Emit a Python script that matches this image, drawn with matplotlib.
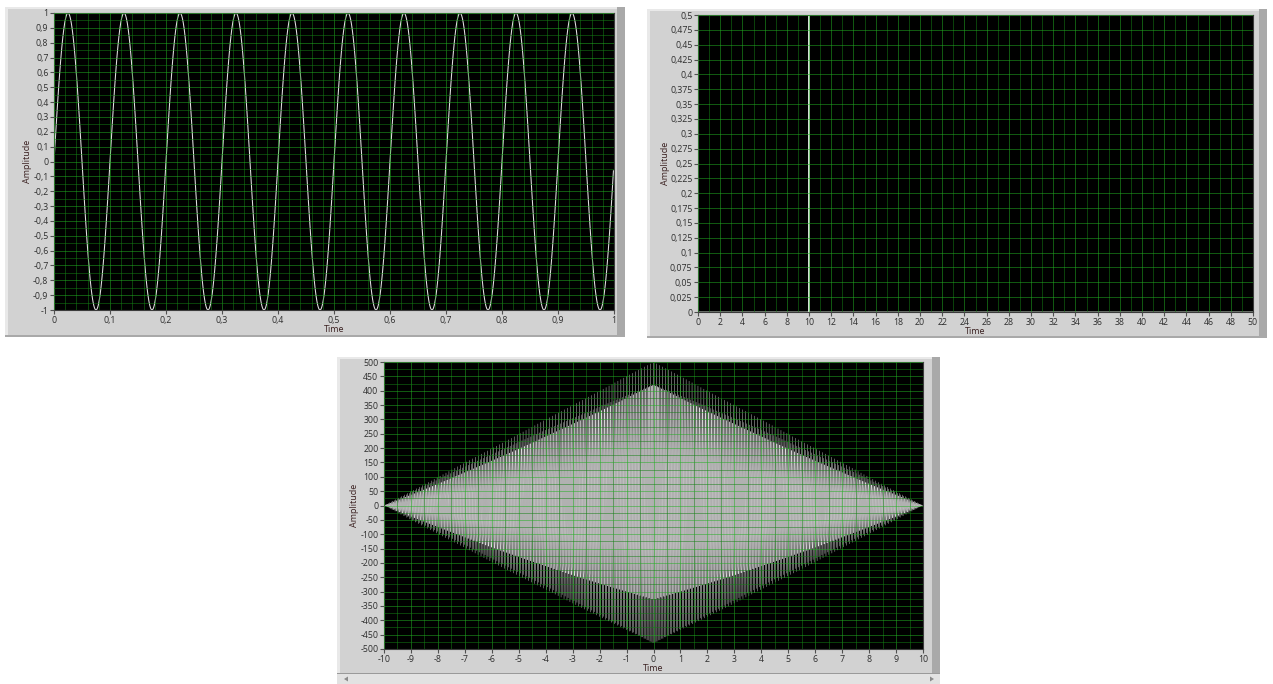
import numpy as np
import matplotlib
matplotlib.use("Agg")
import matplotlib.pyplot as plt
from matplotlib.patches import Rectangle, Polygon
from matplotlib.ticker import MultipleLocator

plt.rcParams["path.simplify"] = False

# ---------------- signal parameters ----------------
# Sine wave: 10 Hz, unit amplitude, 1000 samples at 1 kHz
sine_freq = 10.0
sine_amp = 1.0
sine_dt = 0.001
sine_n = 1000

# Impulse: unit pulse at t = 10 on a 0..50 record
imp_time = 10.0
imp_amp = 1.0
imp_dt = 0.02
imp_span = 50.0

# Autocorrelation of a sine, 1000 samples at 100 Hz
ac_freq = 27.27
ac_amp = 1.0
ac_dt = 0.01
ac_n = 1000

# ---------------- axis scales / ticks ----------------
x1_ticks = [0, 0.1, 0.2, 0.3, 0.4, 0.5, 0.6, 0.7, 0.8, 0.9, 1]
y1_ticks = [-1, -0.9, -0.8, -0.7, -0.6, -0.5, -0.4, -0.3, -0.2, -0.1, 0,
            0.1, 0.2, 0.3, 0.4, 0.5, 0.6, 0.7, 0.8, 0.9, 1]
x2_ticks = list(range(0, 51, 2))
y2_ticks = [0, 0.025, 0.05, 0.075, 0.1, 0.125, 0.15, 0.175, 0.2, 0.225, 0.25,
            0.275, 0.3, 0.325, 0.35, 0.375, 0.4, 0.425, 0.45, 0.475, 0.5]
x3_ticks = list(range(-10, 11))
y3_ticks = list(range(-500, 501, 50))

x_name = "Time"
y_name = "Amplitude"


def comma(v):
    s = f"{round(v, 6):g}"
    return s.replace(".", ",")


# ---------------- build the signals ----------------
t1 = np.arange(sine_n) * sine_dt
y1 = sine_amp * np.sin(2 * np.pi * sine_freq * t1)

t2 = np.arange(0, imp_span + imp_dt / 2, imp_dt)
y2 = np.zeros_like(t2)
y2[np.argmin(np.abs(t2 - imp_time))] = imp_amp

n_ac = np.arange(ac_n)
s_ac = ac_amp * np.sin(2 * np.pi * ac_freq * n_ac * ac_dt)
y3 = np.correlate(s_ac, s_ac, mode="full")
t3 = np.arange(-(ac_n - 1), ac_n) * ac_dt

# ---------------- figure ----------------
W, H = 1273, 684
fig = plt.figure(figsize=(W / 100, H / 100), dpi=100)
fig.patch.set_facecolor("white")
plt.rcParams["font.family"] = ["Open Sans", "DejaVu Sans"]

FRAME = "#d2d2d2"
HILITE = "#e9e9e9"
SHADOW = "#a9a9a9"
MAJOR = "#22b022"
MINOR = "#148014"
TXT = "#2e2e2e"
NAME = "#3a2020"


def rect(l, t, r, b, color, z=-10):
    fig.patches.append(Rectangle((l / W, 1 - b / H), (r - l) / W, (b - t) / H,
                                 transform=fig.transFigure, facecolor=color,
                                 edgecolor="none", zorder=z))


def frame(l, t, r, b):
    rect(l, t, r, b, FRAME)
    rect(l, t, r, t + 2, HILITE, -9)
    rect(l, t, l + 3, b, HILITE, -9)
    rect(r - 8, t, r, b, SHADOW, -9)
    rect(l, b - 2, r, b, SHADOW, -9)


def axes_px(l, t, r, b):
    return fig.add_axes([l / W, 1 - b / H, (r - l) / W, (b - t) / H])


def style(ax, xt, yt, xminor, yminor, xlim, ylim, ylab_x):
    ax.set_facecolor("black")
    ax.set_xlim(*xlim)
    ax.set_ylim(*ylim)
    ax.set_xticks(xt)
    ax.set_xticklabels([comma(v) for v in xt])
    ax.set_yticks(yt)
    ax.set_yticklabels([comma(v) for v in yt])
    ax.xaxis.set_minor_locator(MultipleLocator(xminor))
    ax.yaxis.set_minor_locator(MultipleLocator(yminor))
    ax.tick_params(which="major", direction="out", length=3, width=0.8,
                   color="#505050", labelsize=6.3, labelcolor=TXT, pad=1)
    ax.tick_params(which="minor", length=0)
    # translucent grid drawn over the traces
    ax.set_axisbelow(False)
    ax.grid(which="major", color=MAJOR, lw=0.72, alpha=0.5)
    ax.grid(which="minor", color=MINOR, lw=0.72, alpha=0.5)
    for sp in ax.spines.values():
        sp.set_color("#3c3c3c")
        sp.set_linewidth(0.8)
    ax.set_xlabel(x_name, fontsize=6.5, color=NAME, labelpad=0)
    ax.set_ylabel(y_name, fontsize=6.5, color=NAME)
    ax.yaxis.set_label_coords(ylab_x, 0.5)


# Panel 1: sine wave
frame(5, 7, 625, 337)
ax1 = axes_px(54, 13, 614, 310)
style(ax1, x1_ticks, y1_ticks, 0.02, 0.05, (0, 1), (-1, 1), -0.039)
ax1.plot(t1, y1, color="#e2e2e2", lw=0.75)

# Panel 2: impulse
frame(647, 9, 1267, 338)
ax2 = axes_px(698, 15, 1253, 312)
style(ax2, x2_ticks, y2_ticks, 1, 0.025, (0, 50), (0, 0.5), -0.05)
ax2.plot(t2, y2, color="#d8e4d8", lw=0.7)

# Panel 3: autocorrelation
frame(337, 357, 940, 684)
ax3 = axes_px(384, 362, 923, 649)
style(ax3, x3_ticks, y3_ticks, 0.5, 25, (-10, 10), (-500, 500), -0.046)
ax3.plot(t3, y3, color="white", lw=0.25)

# horizontal scrollbar under panel 3
rect(337, 673, 940, 684, "#e2e2e2", -8)
rect(337, 673, 940, 674, "#9a9a9a", -8)
fig.patches.append(Polygon([[344 / W, 1 - 679 / H], [348 / W, 1 - 676.5 / H],
                            [348 / W, 1 - 681.5 / H]], closed=True,
                           transform=fig.transFigure, facecolor="#8a8a8a",
                           edgecolor="none", zorder=-7))
fig.patches.append(Polygon([[934 / W, 1 - 679 / H], [930 / W, 1 - 676.5 / H],
                            [930 / W, 1 - 681.5 / H]], closed=True,
                           transform=fig.transFigure, facecolor="#8a8a8a",
                           edgecolor="none", zorder=-7))

fig.savefig("out.png", dpi=100, facecolor="white")
